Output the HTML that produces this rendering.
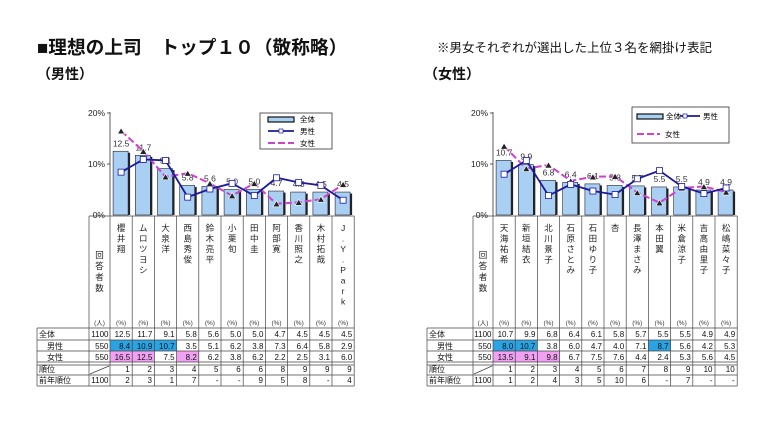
<!DOCTYPE html>
<html><head><meta charset="utf-8"><style>
body{margin:0;background:#fff;}
svg{display:block;font-family:"Liberation Sans","Noto Sans CJK JP",sans-serif;}
</style></head><body>
<svg id="s" width="780" height="432" viewBox="0 0 780 432" xmlns="http://www.w3.org/2000/svg">
<text x="37" y="54" font-size="18.7" font-weight="bold" fill="#111">■理想の上司　トップ１０（敬称略）</text>
<text x="37" y="79" font-size="14" font-weight="bold" fill="#111">（男性）</text>
<text x="437" y="52" font-size="12.5" fill="#111">※男女それぞれが選出した上位３名を網掛け表記</text>
<text x="424" y="79" font-size="14" font-weight="bold" fill="#111">（女性）</text>
</svg>
<script>
const S=document.getElementById('s');let h='';
const W=22.2;
function y(v){return 215-v*5.1;}
function chart(o){
 const {L,C,D,names,tot,mal,fem,mh,fh,rank,prev,legR}=o;
 const E=D+W*11;
 [['20%',0],['10%',10],['0%',20]].forEach(([t,k],i)=>{h+=`<text x="${D-5}" y="${y(20-k)+3}" font-size="8.5" text-anchor="end" fill="#222">${t}</text>`;});
 h+=`<line x1="${D}" y1="112" x2="${D}" y2="216" stroke="#333" stroke-width="0.8"/>`;
 [20,10].forEach(v=>h+=`<line x1="${D-3}" y1="${y(v)}" x2="${D}" y2="${y(v)}" stroke="#333" stroke-width="0.8"/>`);
 tot.forEach((v,i)=>{const c=D+W*(i+0.5);const t=y(v);
  h+=`<rect x="${c-6}" y="${t+1.5}" width="15" height="${215-t-1.5}" fill="#222"/>`;
  h+=`<rect x="${c-8}" y="${t}" width="15" height="${215-t}" fill="#a9cff2" stroke="#223" stroke-width="0.6"/>`;
  h+=`<text x="${c}" y="${t-5}" font-size="8.5" text-anchor="middle" fill="#333">${v.toFixed(1)}</text>`;});
 let pf=fem.map((v,i)=>`${D+W*(i+0.5)},${y(v)}`).join(' ');
 h+=`<polyline points="${pf}" fill="none" stroke="#cc44cc" stroke-width="2" stroke-dasharray="7,3"/>`;
 fem.forEach((v,i)=>{const c=D+W*(i+0.5),t=y(v);h+=`<polygon points="${c},${t-3} ${c+3.5},${t+3} ${c-3.5},${t+3}" fill="#222" stroke="#fff" stroke-width="0.6"/>`;});
 let pm=mal.map((v,i)=>`${D+W*(i+0.5)},${y(v)}`).join(' ');
 h+=`<polyline points="${pm}" fill="none" stroke="#1a1a9a" stroke-width="1.8"/>`;
 mal.forEach((v,i)=>{const c=D+W*(i+0.5),t=y(v);h+=`<rect x="${c-3}" y="${t-3}" width="6" height="6" fill="#fff" stroke="#1a1a9a" stroke-width="0.8"/>`;});
 if(!legR){
  h+=`<rect x="260" y="113" width="72" height="36" fill="#fff" stroke="#333" stroke-width="0.8"/>`;
  h+=`<rect x="268" y="117" width="26" height="5" fill="#a9cff2" stroke="#111" stroke-width="1.2"/><text x="300" y="122" font-size="7.5">全体</text>`;
  h+=`<line x1="268" y1="131" x2="294" y2="131" stroke="#1a1a9a" stroke-width="1.8"/><rect x="279" y="129" width="4" height="4" fill="#fff" stroke="#1a1a9a" stroke-width="0.7"/><text x="300" y="134" font-size="7.5">男性</text>`;
  h+=`<line x1="268" y1="143" x2="294" y2="143" stroke="#cc44cc" stroke-width="2" stroke-dasharray="7,3"/><text x="300" y="146" font-size="7.5">女性</text>`;
 } else {
  h+=`<rect x="632" y="107" width="97" height="36" fill="#fff" stroke="#333" stroke-width="0.8"/>`;
  h+=`<rect x="637" y="114" width="26" height="5" fill="#a9cff2" stroke="#111" stroke-width="1.2"/><text x="666" y="119" font-size="7.5">全体</text>`;
  h+=`<line x1="680" y1="116" x2="700" y2="116" stroke="#1a1a9a" stroke-width="1.8"/><rect x="683" y="114" width="4" height="4" fill="#fff" stroke="#1a1a9a" stroke-width="0.7"/><text x="703" y="119" font-size="7.5">男性</text>`;
  h+=`<line x1="637" y1="134" x2="660" y2="134" stroke="#cc44cc" stroke-width="2" stroke-dasharray="7,3"/><text x="665" y="137" font-size="7.5">女性</text>`;
 }
 const rows=[334,346,357,369,380];
 mh.forEach(i=>h+=`<rect x="${D+W*i}" y="340" width="${W}" height="11" fill="#2aa3e2"/>`);
 fh.forEach(i=>h+=`<rect x="${D+W*i}" y="351" width="${W}" height="11" fill="#f2a0f2"/>`);
 const st='stroke="#444" stroke-width="0.7"';
 h+=`<line x1="${C}" y1="216" x2="${E}" y2="216" ${st}/>`;
 [328,340,351,362,365,375,386].forEach(yy=>h+=`<line x1="${L}" y1="${yy}" x2="${E}" y2="${yy}" ${st}/>`);
 h+=`<line x1="${L}" y1="328" x2="${L}" y2="386" ${st}/>`;
 for(let i=0;i<=11;i++){const x=D+W*i;h+=`<line x1="${x}" y1="216" x2="${x}" y2="386" ${st}/>`;}
 h+=`<line x1="${C}" y1="216" x2="${C}" y2="386" ${st}/>`;
 h+=`<line x1="${C+1}" y1="374" x2="${D-1}" y2="366" ${st}/>`;
 names.forEach((n,i)=>{const c=D+W*(i+0.5);[...n].forEach((ch,k)=>h+=`<text x="${c}" y="${231+k*10.5}" font-size="8.5" text-anchor="middle" fill="#222">${ch}</text>`);
  h+=`<text x="${c}" y="325" font-size="6.5" text-anchor="middle" fill="#333">(%)</text>`;});
 const cc=(C+D)/2;
 [...'回答者数'].forEach((ch,k)=>h+=`<text x="${cc}" y="${258+k*11}" font-size="8.5" text-anchor="middle" fill="#222">${ch}</text>`);
 h+=`<text x="${cc}" y="325" font-size="6.5" text-anchor="middle" fill="#333">(人)</text>`;
 [['全体',L+2],['男性',L+10],['女性',L+10],['順位',L+2],['前年順位',L+2]].forEach(([t,x],r)=>h+=`<text x="${x}" y="${rows[r]+3}" font-size="8" fill="#111">${t}</text>`);
 ['1100','550','550','','1100'].forEach((t,r)=>h+=`<text x="${D-1.5}" y="${rows[r]+3}" font-size="8" text-anchor="end" fill="#111">${t}</text>`);
 [tot,mal,fem].forEach((arr,r)=>arr.forEach((v,i)=>h+=`<text x="${D+W*(i+1)-2}" y="${rows[r]+3}" font-size="8" text-anchor="end" fill="#111">${v.toFixed(1)}</text>`));
 [rank,prev].forEach((arr,r)=>arr.forEach((v,i)=>h+=`<text x="${D+W*(i+1)-2.5}" y="${rows[r+3]+3}" font-size="8" text-anchor="end" fill="#111">${v}</text>`));
}
chart({L:37,C:89,D:110,legR:false,
 names:['櫻井翔','ムロツヨシ','大泉洋','西島秀俊','鈴木亮平','小栗旬','田中圭','阿部寛','香川照之','木村拓哉','J.Y.Park'],
 tot:[12.5,11.7,9.1,5.8,5.6,5.0,5.0,4.7,4.5,4.5,4.5],
 mal:[8.4,10.9,10.7,3.5,5.1,6.2,3.8,7.3,6.4,5.8,2.9],
 fem:[16.5,12.5,7.5,8.2,6.2,3.8,6.2,2.2,2.5,3.1,6.0],
 mh:[0,1,2],fh:[0,1,3],
 rank:[1,2,3,4,5,6,6,8,9,9,9],prev:[2,3,1,7,'-','-',9,5,8,'-',4]});
chart({L:427,C:473,D:493,legR:true,
 names:['天海祐希','新垣結衣','北川景子','石原さとみ','石田ゆり子','杏','長澤まさみ','本田翼','米倉涼子','吉高由里子','松嶋菜々子'],
 tot:[10.7,9.9,6.8,6.4,6.1,5.8,5.7,5.5,5.5,4.9,4.9],
 mal:[8.0,10.7,3.8,6.0,4.7,4.0,7.1,8.7,5.6,4.2,5.3],
 fem:[13.5,9.1,9.8,6.7,7.5,7.6,4.4,2.4,5.3,5.6,4.5],
 mh:[0,1,7],fh:[0,1,2],
 rank:[1,2,3,4,5,6,7,8,9,10,10],prev:[1,2,4,3,5,10,6,'-',7,'-','-']});
S.insertAdjacentHTML('beforeend',h);
</script>
</body></html>
